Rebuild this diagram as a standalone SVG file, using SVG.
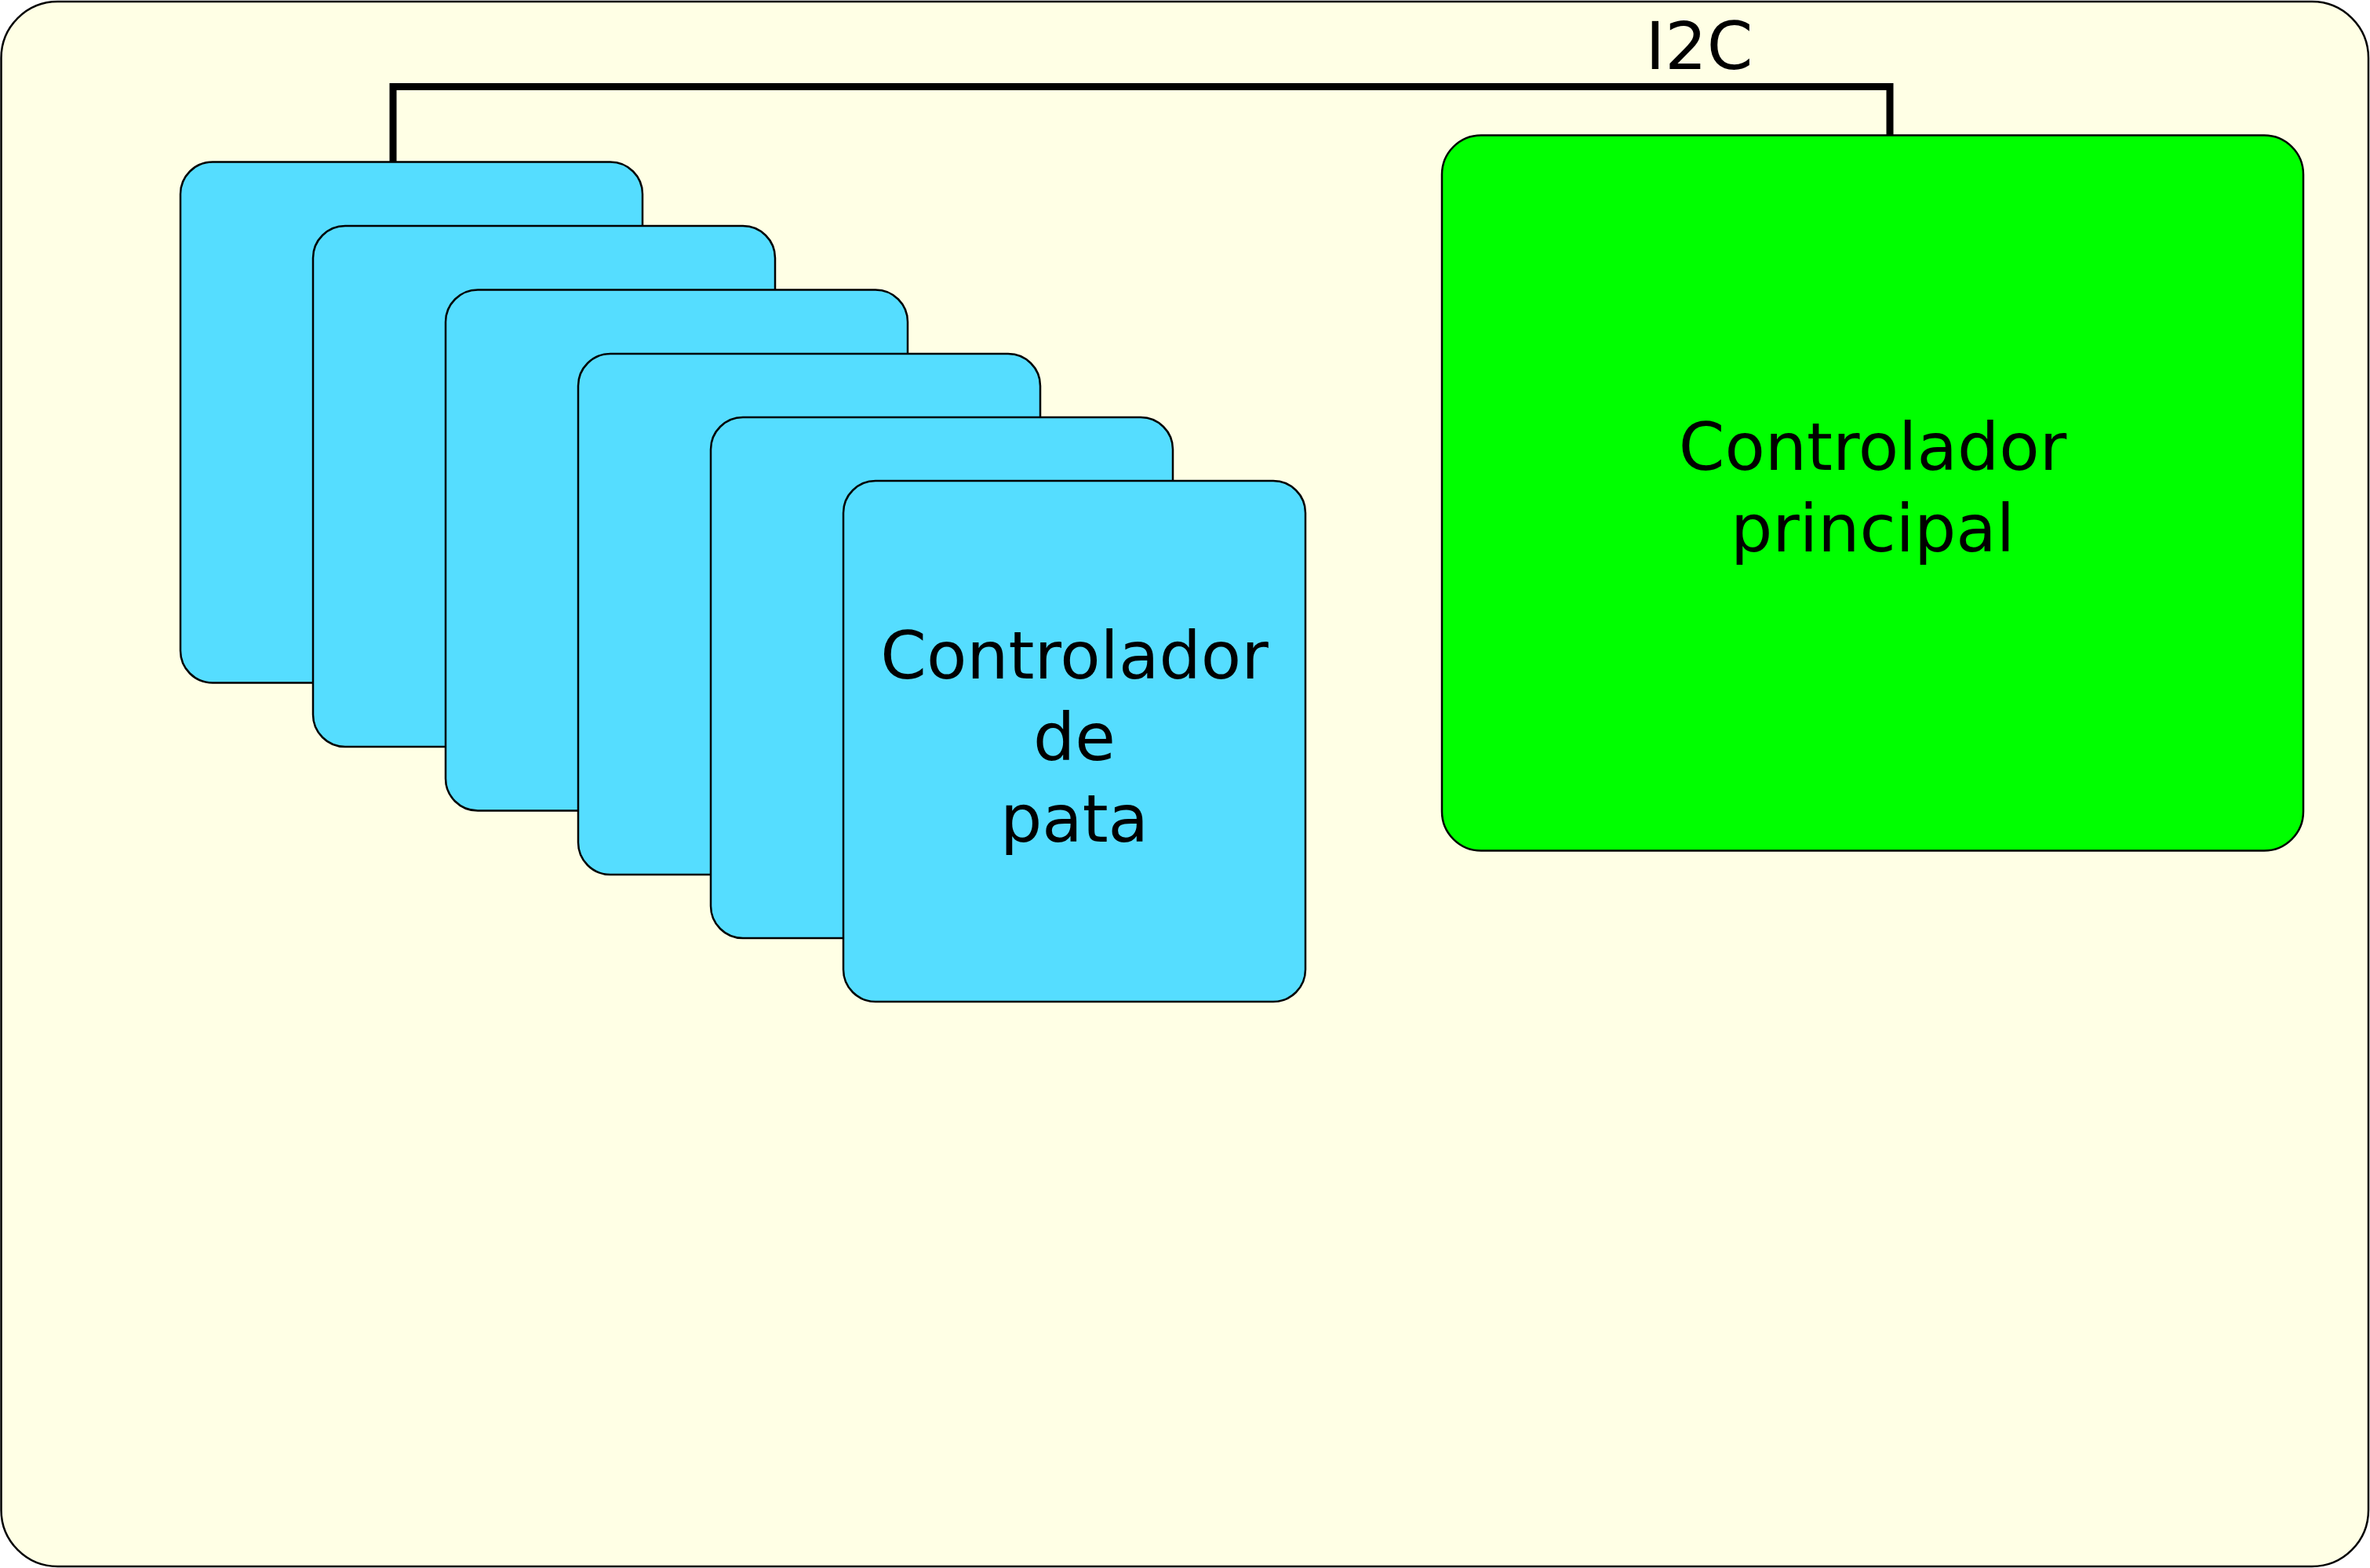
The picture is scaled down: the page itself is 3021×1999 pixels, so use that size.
<svg xmlns="http://www.w3.org/2000/svg" width="3021" height="1999" viewBox="0 0 3021 1999">
<style>
.leg{fill:#55DDFF;stroke:#000;stroke-width:2.5}
.main{fill:#00FF00;stroke:#000;stroke-width:2.5}
.bg{fill:#FFFFE5;stroke:#000;stroke-width:2.5}
.lbl{font-family:"DejaVu Sans",sans-serif;font-size:84px;fill:#000;text-anchor:middle}
.bus{fill:none;stroke:#000;stroke-width:9}
</style>
<rect id="board" class="bg" x="1.5" y="2" width="3017.5" height="1995" rx="72" ry="72"/>
<g id="connectors">
<path class="bus" d="M501,206.5 V110.5 H2409 V172.5"/>
<text class="lbl" x="2166" y="88">I2C</text>
</g>
<g id="leg1"><rect class="leg" x="230" y="206.5" width="589" height="664" rx="41" ry="41"/></g>
<g id="leg2"><rect class="leg" x="399" y="288" width="589" height="664" rx="41" ry="41"/></g>
<g id="leg3"><rect class="leg" x="568" y="369.5" width="589" height="664" rx="41" ry="41"/></g>
<g id="leg4"><rect class="leg" x="737" y="451" width="589" height="664" rx="41" ry="41"/></g>
<g id="leg5"><rect class="leg" x="906" y="532" width="589" height="664" rx="41" ry="41"/></g>
<g id="leg6"><rect class="leg" x="1075" y="613" width="589" height="664" rx="41" ry="41"/>
<text class="lbl" x="1369.5" y="865">Controlador</text>
<text class="lbl" x="1369.5" y="969">de</text>
<text class="lbl" x="1369.5" y="1073">pata</text>
</g>
<g id="main"><rect class="main" x="1838" y="172.5" width="1098" height="912" rx="50" ry="50"/>
<text class="lbl" x="2387" y="599">Controlador</text>
<text class="lbl" x="2387" y="703">principal</text>
</g>
</svg>
